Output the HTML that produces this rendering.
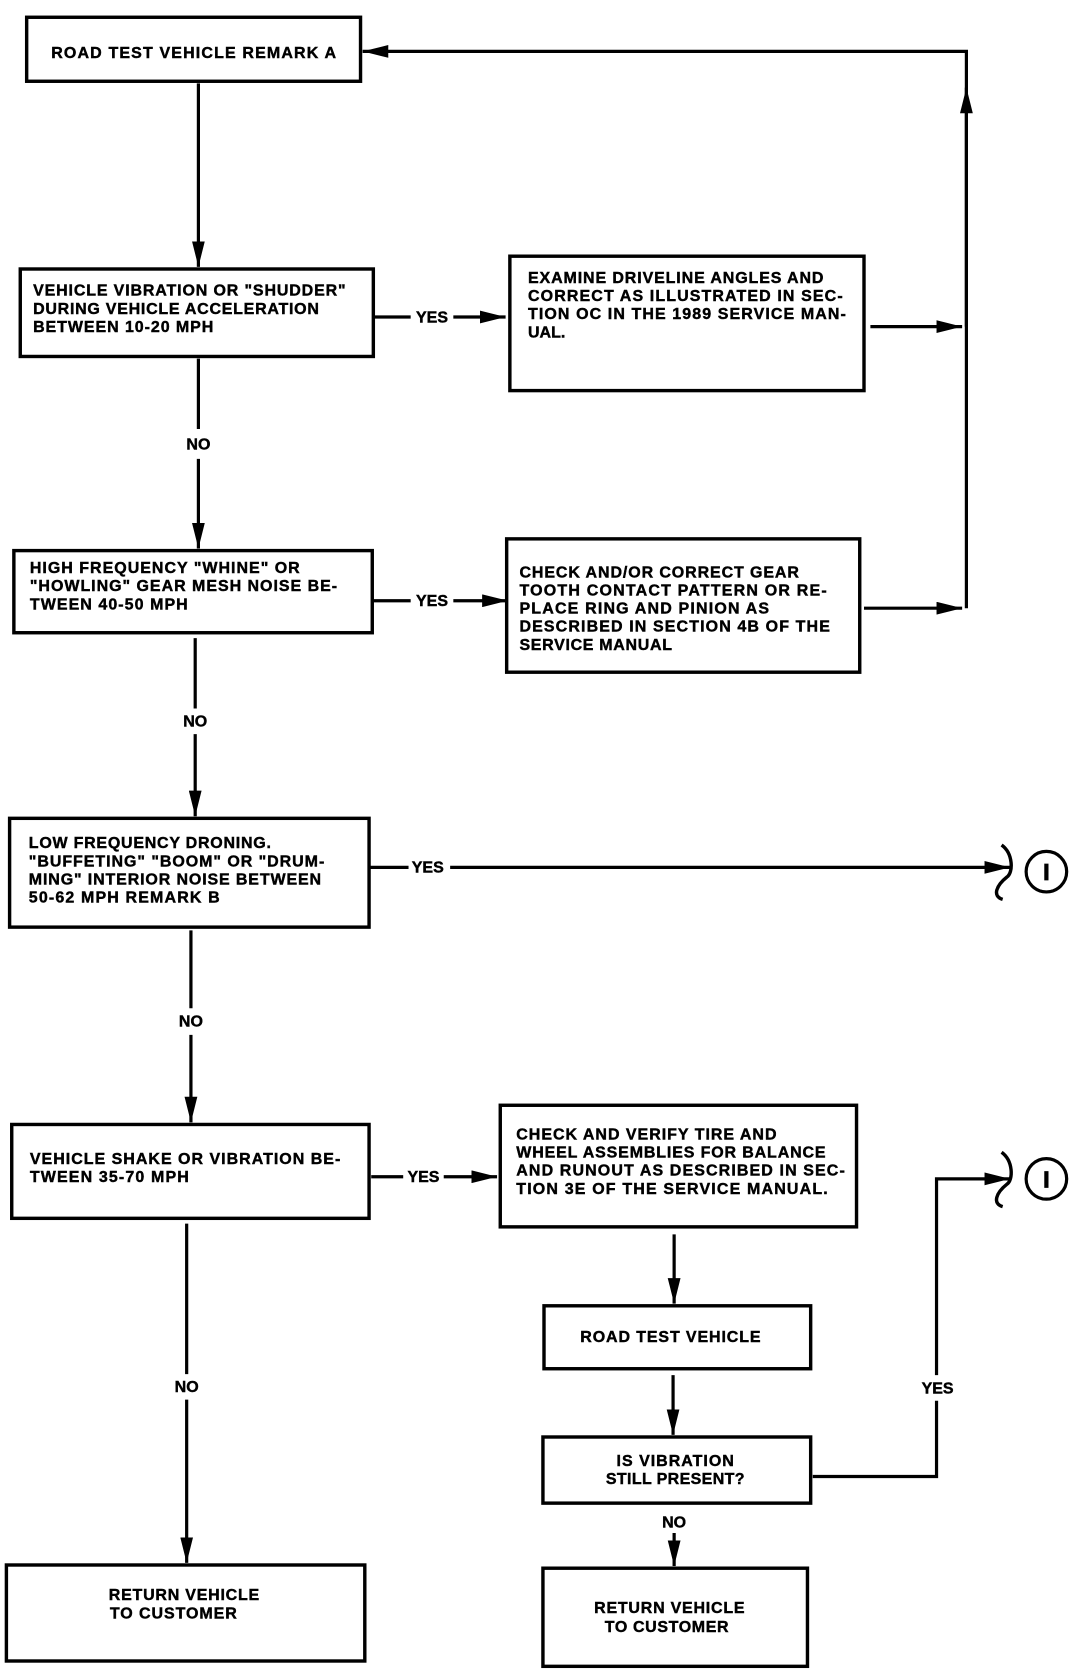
<!DOCTYPE html>
<html><head><style>html,body{margin:0;padding:0;background:#fff}svg{display:block}</style></head>
<body>
<svg width="1088" height="1674" viewBox="0 0 1020 1569" xmlns="http://www.w3.org/2000/svg">
<defs>
<marker id="b" viewBox="0 0 10 10" refX="10" refY="5" markerWidth="24" markerHeight="12" markerUnits="userSpaceOnUse" orient="auto" preserveAspectRatio="none"><path d="M0,0 L10,5 L0,10 z" fill="#000"/></marker>
</defs>
<g fill="none" stroke="#000" stroke-width="3.2">
<rect x="25" y="16" width="313" height="60"/>
<rect x="19" y="252" width="331" height="82"/>
<rect x="478" y="240" width="332" height="126"/>
<rect x="13" y="516" width="336" height="77"/>
<rect x="475" y="505" width="331" height="125"/>
<rect x="9" y="767" width="337" height="102"/>
<rect x="11" y="1054" width="335" height="88"/>
<rect x="469" y="1036" width="334" height="114"/>
<rect x="510" y="1224" width="250" height="59"/>
<rect x="509" y="1347" width="251" height="62"/>
<rect x="509" y="1470" width="248" height="92"/>
<rect x="6" y="1467" width="336" height="90"/>
<circle cx="981" cy="817" r="19" stroke-width="3"/>
<circle cx="981" cy="1105" r="19" stroke-width="3"/>
</g>
<g fill="none" stroke="#000" stroke-width="3">
<line x1="186" y1="78" x2="186" y2="250" marker-end="url(#b)"/>
<polyline points="906,306 906,48 340,48" marker-end="url(#b)"/>
<line x1="906" y1="570" x2="906" y2="82" marker-end="url(#b)"/>
<line x1="350" y1="297" x2="385" y2="297"/>
<line x1="425" y1="297" x2="474" y2="297" marker-end="url(#b)"/>
<line x1="816" y1="306" x2="902" y2="306" marker-end="url(#b)"/>
<line x1="186" y1="336" x2="186" y2="402"/>
<line x1="186" y1="430" x2="186" y2="514" marker-end="url(#b)"/>
<line x1="349" y1="563" x2="385" y2="563"/>
<line x1="425" y1="563" x2="476" y2="563" marker-end="url(#b)"/>
<line x1="810" y1="570" x2="902" y2="570" marker-end="url(#b)"/>
<line x1="183" y1="598" x2="183" y2="664"/>
<line x1="183" y1="688" x2="183" y2="765" marker-end="url(#b)"/>
<line x1="346" y1="813" x2="383" y2="813"/>
<line x1="422" y1="813" x2="947" y2="813" marker-end="url(#b)"/>
<line x1="179" y1="872" x2="179" y2="945"/>
<line x1="179" y1="970" x2="179" y2="1052" marker-end="url(#b)"/>
<line x1="348" y1="1103" x2="378" y2="1103"/>
<line x1="416" y1="1103" x2="466" y2="1103" marker-end="url(#b)"/>
<line x1="632" y1="1157" x2="632" y2="1222" marker-end="url(#b)"/>
<line x1="631" y1="1289" x2="631" y2="1345" marker-end="url(#b)"/>
<polyline points="762,1384 878,1384 878,1313"/>
<polyline points="878,1289 878,1105 947,1105" marker-end="url(#b)"/>
<line x1="632" y1="1437" x2="632" y2="1468" marker-end="url(#b)"/>
<line x1="175" y1="1147" x2="175" y2="1288"/>
<line x1="175" y1="1312" x2="175" y2="1465" marker-end="url(#b)"/>
<path d="M939,792 C950,800 950,818 944,822 C934,830 930,840 940,843" stroke-width="3.2"/>
<path d="M939,1080 C950,1088 950,1106 944,1110 C934,1118 930,1128 940,1131" stroke-width="3.2"/>
</g>
<g font-family="Liberation Sans, Arial, sans-serif" font-weight="bold" font-size="15" fill="#000" stroke="#000" stroke-width="0.4" lengthAdjust="spacingAndGlyphs">
<text x="48" y="54" textLength="267">ROAD TEST VEHICLE REMARK A</text>
<text x="31" y="277" textLength="293">VEHICLE VIBRATION OR "SHUDDER"</text>
<text x="31" y="294" textLength="268">DURING VEHICLE ACCELERATION</text>
<text x="31" y="311" textLength="169">BETWEEN 10-20 MPH</text>
<text x="495" y="265" textLength="277">EXAMINE DRIVELINE ANGLES AND</text>
<text x="495" y="282" textLength="295">CORRECT AS ILLUSTRATED IN SEC-</text>
<text x="495" y="299" textLength="298">TION OC IN THE 1989 SERVICE MAN-</text>
<text x="495" y="316" textLength="35">UAL.</text>
<text x="28" y="537" textLength="253">HIGH FREQUENCY "WHINE" OR</text>
<text x="28" y="554" textLength="288">"HOWLING" GEAR MESH NOISE BE-</text>
<text x="28" y="571" textLength="148">TWEEN 40-50 MPH</text>
<text x="487" y="541" textLength="262">CHECK AND/OR CORRECT GEAR</text>
<text x="487" y="558" textLength="288">TOOTH CONTACT PATTERN OR RE-</text>
<text x="487" y="575" textLength="234">PLACE RING AND PINION AS</text>
<text x="487" y="592" textLength="291">DESCRIBED IN SECTION 4B OF THE</text>
<text x="487" y="609" textLength="143">SERVICE MANUAL</text>
<text x="27" y="795" textLength="227">LOW FREQUENCY DRONING.</text>
<text x="27" y="812" textLength="277">"BUFFETING" "BOOM" OR "DRUM-</text>
<text x="27" y="829" textLength="274">MING" INTERIOR NOISE BETWEEN</text>
<text x="27" y="846" textLength="179">50-62 MPH REMARK B</text>
<text x="28" y="1091" textLength="291">VEHICLE SHAKE OR VIBRATION BE-</text>
<text x="28" y="1108" textLength="149">TWEEN 35-70 MPH</text>
<text x="484" y="1068" textLength="244">CHECK AND VERIFY TIRE AND</text>
<text x="484" y="1085" textLength="290">WHEEL ASSEMBLIES FOR BALANCE</text>
<text x="484" y="1102" textLength="308">AND RUNOUT AS DESCRIBED IN SEC-</text>
<text x="484" y="1119" textLength="292">TION 3E OF THE SERVICE MANUAL.</text>
<text x="544" y="1258" textLength="169">ROAD TEST VEHICLE</text>
<text x="578" y="1374" textLength="110">IS VIBRATION</text>
<text x="568" y="1391" textLength="130">STILL PRESENT?</text>
<text x="557" y="1512" textLength="141">RETURN VEHICLE</text>
<text x="567" y="1530" textLength="116">TO CUSTOMER</text>
<text x="102" y="1500" textLength="141">RETURN VEHICLE</text>
<text x="103" y="1517" textLength="119">TO CUSTOMER</text>
</g>
<g font-family="Liberation Sans, Arial, sans-serif" font-weight="bold" font-size="15" fill="#000" stroke="#000" stroke-width="0.4" text-anchor="middle">
<text x="405" y="302">YES</text>
<text x="405" y="568">YES</text>
<text x="401" y="818">YES</text>
<text x="397" y="1108">YES</text>
<text x="879" y="1306">YES</text>
<text x="186" y="421">NO</text>
<text x="183" y="681">NO</text>
<text x="179" y="962">NO</text>
<text x="175" y="1305">NO</text>
<text x="632" y="1432">NO</text>
<text x="981" y="825" font-size="22" stroke-width="0.8">I</text>
<text x="981" y="1113" font-size="22" stroke-width="0.8">I</text>
</g>
</svg>
</body></html>
